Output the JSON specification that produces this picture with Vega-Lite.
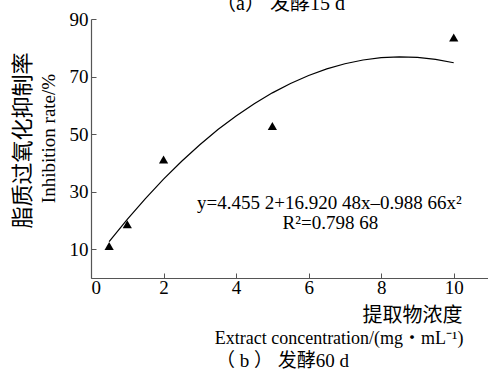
{
  "$schema": "https://vega.github.io/schema/vega-lite/v6.json",
  "autosize": "none",
  "width": 399,
  "height": 259,
  "padding": {"left": 91, "top": 19, "right": 0, "bottom": 93},
  "background": "white",
  "title": {
    "text": "（a） 发酵15 d",
    "orient": "top",
    "anchor": "middle",
    "dx": -10,
    "offset": -20,
    "baseline": "alphabetic",
    "font": "Liberation Serif, Noto Sans CJK SC",
    "fontSize": 20,
    "fontWeight": "normal",
    "color": "black"
  },
  "datasets": {
    "points": [
      {"x": 0.5, "y": 11.1},
      {"x": 1, "y": 18.7},
      {"x": 2, "y": 41.2},
      {"x": 5, "y": 52.8},
      {"x": 10, "y": 83.6}
    ],
    "curve": [
      {"x": 0.5, "y": 12.67},
      {"x": 1, "y": 20.39},
      {"x": 1.5, "y": 27.61},
      {"x": 2, "y": 34.34},
      {"x": 2.5, "y": 40.58},
      {"x": 3, "y": 46.32},
      {"x": 3.5, "y": 51.57},
      {"x": 4, "y": 56.32},
      {"x": 4.5, "y": 60.58},
      {"x": 5, "y": 64.34},
      {"x": 5.5, "y": 67.61},
      {"x": 6, "y": 70.39},
      {"x": 6.5, "y": 72.67},
      {"x": 7, "y": 74.45},
      {"x": 7.5, "y": 75.75},
      {"x": 8, "y": 76.55},
      {"x": 8.5, "y": 76.85},
      {"x": 9, "y": 76.66},
      {"x": 9.5, "y": 75.97},
      {"x": 10, "y": 74.79}
    ],
    "eq": [
      {"x": 6.57, "y": 26.1, "label": "y=4.455 2+16.920 48x–0.988 66x²"},
      {"x": 6.6, "y": 19.1, "label": "R²=0.798 68"}
    ]
  },
  "layer": [
    {
      "data": {"name": "points"},
      "mark": {"type": "point", "shape": "triangle-up", "filled": true, "color": "black", "opacity": 1, "size": 85},
      "encoding": {
        "x": {
          "field": "x", "type": "quantitative",
          "scale": {"domain": [0, 11], "nice": false, "zero": true},
          "axis": {
            "orient": "bottom",
            "values": [0, 2, 4, 6, 8, 10],
            "grid": false,
            "tickSize": -5,
            "labelPadding": 5,
            "labelFontSize": 19,
            "labelFont": "Liberation Serif",
            "labelColor": "black",
            "title": "提取物浓度",
            "titleFont": "Liberation Serif, Noto Sans CJK SC",
            "titleFontSize": 20,
            "titleFontWeight": "normal",
            "titleColor": "black",
            "titleAlign": "right",
            "titleX": 371,
            "titlePadding": 8
          }
        },
        "y": {
          "field": "y", "type": "quantitative",
          "scale": {"domain": [0, 90], "nice": false},
          "axis": {
            "orient": "left",
            "values": [10, 30, 50, 70, 90],
            "grid": false,
            "tickSize": -5,
            "labelPadding": 8,
            "labelFontSize": 19,
            "labelFont": "Liberation Serif",
            "labelColor": "black",
            "title": "Inhibition rate/%",
            "titleFont": "Liberation Serif",
            "titleFontSize": 19,
            "titleFontWeight": "normal",
            "titleColor": "black",
            "titleY": 119,
            "titlePadding": 11
          }
        }
      }
    },
    {
      "data": {"name": "curve"},
      "mark": {"type": "line", "color": "black", "strokeWidth": 1.2},
      "encoding": {
        "x": {
          "field": "x", "type": "quantitative",
          "axis": {
            "orient": "bottom",
            "domain": false, "ticks": false, "labels": false, "grid": false,
            "title": "Extract concentration/(mg・mL⁻¹)",
            "titleFont": "Liberation Serif, Noto Sans CJK SC",
            "titleFontSize": 18,
            "titleFontWeight": "normal",
            "titleColor": "black",
            "titleAlign": "right",
            "titleX": 372,
            "titlePadding": 51
          }
        },
        "y": {
          "field": "y", "type": "quantitative",
          "axis": {
            "orient": "left",
            "domain": false, "ticks": false, "labels": false, "grid": false,
            "title": "脂质过氧化抑制率",
            "titleFont": "Noto Sans CJK SC",
            "titleFontSize": 22,
            "titleFontWeight": "normal",
            "titleColor": "black",
            "titleY": 121,
            "titlePadding": 57
          }
        }
      }
    },
    {
      "data": {"name": "eq"},
      "mark": {"type": "text", "font": "Liberation Serif", "fontSize": 19, "color": "black", "align": "center", "baseline": "middle"},
      "encoding": {
        "x": {
          "field": "x", "type": "quantitative",
          "axis": {
            "orient": "bottom",
            "domain": false, "ticks": false, "labels": false, "grid": false,
            "title": "（ b ） 发酵60 d",
            "titleFont": "Liberation Serif, Noto Sans CJK SC",
            "titleFontSize": 19,
            "titleFontWeight": "normal",
            "titleColor": "black",
            "titleAlign": "center",
            "titleX": 191,
            "titlePadding": 73
          }
        },
        "y": {"field": "y", "type": "quantitative", "axis": null},
        "text": {"field": "label"}
      }
    }
  ],
  "resolve": {"axis": {"x": "independent", "y": "independent"}},
  "config": {
    "view": {"stroke": null},
    "axis": {"domainColor": "#555555", "tickColor": "#555555", "domainWidth": 1.2}
  }
}
